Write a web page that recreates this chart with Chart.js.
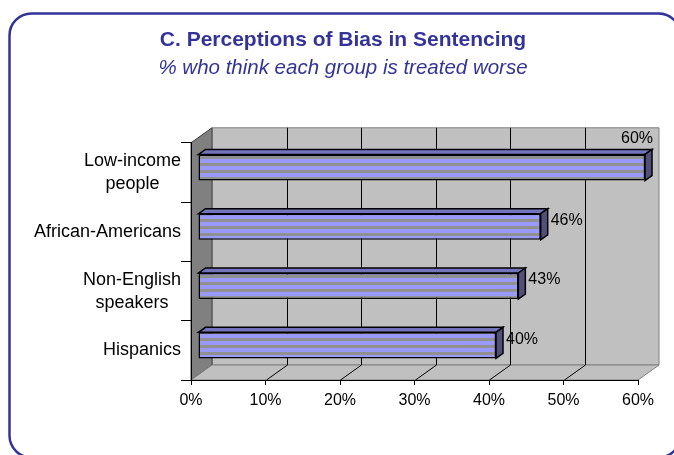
<!DOCTYPE html>
<html lang="en">
<head>
    <meta charset="UTF-8">
    <title>Perceptions of Bias in Sentencing</title>
    <style>
        body { margin: 0; background: #ffffff; }
        #chart { display: block; }
    </style>
</head>
<body>
    <canvas id="chart" width="674" height="455"></canvas>

    <script src="https://cdn.jsdelivr.net/npm/chart.js"></script>
    <script>
        // data
        const categories = [['Low-income', 'people'], 'African-Americans', ['Non-English', 'speakers'], 'Hispanics'];
        const values = [60, 46, 43, 40];
        const xTickValues = [0, 10, 20, 30, 40, 50, 60];

        const FONT = 'Liberation Sans, Arial, sans-serif';
        const NAVY = '#333399';
        // depth of the 3-D box and of the bars inside it
        const DX = 21, DY = -15;
        const BX = 7, BY = -5;

        function stripes() {
            const c = document.createElement('canvas');
            c.width = 4; c.height = 7;
            const g = c.getContext('2d');
            g.fillStyle = '#909090';
            g.fillRect(0, 0, 4, 7);
            g.fillStyle = '#9999ff';
            g.fillRect(0, 3, 4, 4);
            return g.createPattern(c, 'repeat');
        }

        function poly(ctx, pts, fill, stroke) {
            ctx.beginPath();
            ctx.moveTo(pts[0][0], pts[0][1]);
            for (let i = 1; i < pts.length; i++) ctx.lineTo(pts[i][0], pts[i][1]);
            ctx.closePath();
            if (fill) { ctx.fillStyle = fill; ctx.fill(); }
            if (stroke) { ctx.strokeStyle = stroke; ctx.lineWidth = 1; ctx.stroke(); }
        }

        // rounded frame + the walls and floor of the 3-D box
        const boxPlugin = {
            id: 'box3d',
            beforeDraw(chart) {
                const ctx = chart.ctx;
                const { left, right, top, bottom } = chart.chartArea;
                const xs = chart.scales.x;
                ctx.save();
                ctx.fillStyle = '#ffffff';
                ctx.fillRect(0, 0, chart.width, chart.height);

                // frame runs a little past the right and bottom edges
                ctx.beginPath();
                ctx.roundRect(9.5, 13.5, 671, 444, 22);
                ctx.strokeStyle = NAVY;
                ctx.lineWidth = 2.5;
                ctx.stroke();

                // back wall
                poly(ctx, [[left + DX, top + DY], [right + DX, top + DY], [right + DX, bottom + DY], [left + DX, bottom + DY]], '#c0c0c0', '#808080');
                // left wall
                poly(ctx, [[left, top], [left + DX, top + DY], [left + DX, bottom + DY], [left, bottom]], '#808080', '#404040');
                // floor
                poly(ctx, [[left, bottom], [right, bottom], [right + DX, bottom + DY], [left + DX, bottom + DY]], '#c0c0c0', '#808080');

                ctx.lineWidth = 1;
                ctx.strokeStyle = '#000000';
                xTickValues.forEach(v => {
                    if (v === xTickValues[0] || v === xTickValues[xTickValues.length - 1]) return;
                    const x = Math.round(xs.getPixelForValue(v)) + 0.5;
                    ctx.beginPath();
                    ctx.moveTo(x + DX, top + DY);
                    ctx.lineTo(x + DX, bottom + DY);
                    ctx.moveTo(x, bottom);
                    ctx.lineTo(x + DX, bottom + DY);
                    ctx.stroke();
                });
                ctx.restore();
            },
            afterDraw(chart) {
                // category labels: lines centred on each other, block right-aligned at the ticks
                const ctx = chart.ctx;
                const ys = chart.scales.y;
                const rightEdge = chart.chartArea.left - 10;
                ctx.save();
                ctx.font = '18px ' + FONT;
                ctx.fillStyle = '#000000';
                ctx.textAlign = 'center';
                ctx.textBaseline = 'middle';
                categories.forEach((lab, i) => {
                    const lines = Array.isArray(lab) ? lab : [lab];
                    const w = Math.max(...lines.map(l => ctx.measureText(l).width));
                    const cx = rightEdge - w / 2;
                    const cy = ys.getPixelForTick(i);
                    const lh = 23;
                    lines.forEach((l, j) => {
                        ctx.fillText(l, cx, cy + (j - (lines.length - 1) / 2) * lh);
                    });
                });
                ctx.restore();
            }
        };

        // push bars back into the box and give them a top and an end face
        const barPlugin = {
            id: 'bar3d',
            beforeDatasetsDraw(chart) {
                chart.ctx.save();
                chart.ctx.translate(BX, BY);
            },
            afterDatasetsDraw(chart) {
                const ctx = chart.ctx;
                ctx.restore();
                const wallRight = chart.chartArea.right + DX;
                const meta = chart.getDatasetMeta(0);
                ctx.save();
                ctx.lineWidth = 1.5;
                ctx.strokeStyle = '#000000';
                meta.data.forEach((bar, i) => {
                    const p = bar.getProps(['x', 'y', 'base', 'height'], true);
                    const x0 = p.base + BX, x1 = p.x + BX;
                    const yt = p.y - p.height / 2 + BY, yb = p.y + p.height / 2 + BY;
                    poly(ctx, [[x0, yt], [x1, yt], [x1 + BX, yt + BY], [x0 + BX, yt + BY]], '#7474bc', null);
                    ctx.stroke();
                    poly(ctx, [[x1, yt], [x1 + BX, yt + BY], [x1 + BX, yb + BY], [x1, yb]], '#50507a', null);
                    ctx.stroke();

                    ctx.font = '16px ' + FONT;
                    ctx.fillStyle = '#000000';
                    ctx.textBaseline = 'middle';
                    const txt = values[i] + '%';
                    const w = ctx.measureText(txt).width;
                    let lx = x1 + BX + 3;
                    if (lx + w > wallRight - 4) {
                        ctx.textAlign = 'right';
                        ctx.fillText(txt, wallRight - 6, yt - 16);
                    } else {
                        ctx.textAlign = 'left';
                        ctx.fillText(txt, lx, p.y + BY - 6);
                    }
                });
                ctx.restore();
            }
        };

        const chart = new Chart(document.getElementById('chart').getContext('2d'), {
            type: 'bar',
            data: {
                labels: categories,
                datasets: [{
                    data: values,
                    backgroundColor: stripes(),
                    borderColor: '#000000',
                    borderWidth: 1.5,
                    borderSkipped: false,
                    categoryPercentage: 1,
                    barPercentage: 0.44
                }]
            },
            options: {
                indexAxis: 'y',
                responsive: false,
                animation: false,
                devicePixelRatio: 1,
                layout: { padding: { top: 28, right: 36, bottom: 20, left: 48 } },
                plugins: {
                    legend: { display: false },
                    tooltip: { enabled: false },
                    title: {
                        display: true,
                        text: 'C. Perceptions of Bias in Sentencing',
                        color: NAVY,
                        font: { family: FONT, size: 21, weight: 'bold', lineHeight: 1.2 },
                        padding: { top: 0, bottom: 3 }
                    },
                    subtitle: {
                        display: true,
                        text: '% who think each group is treated worse',
                        color: NAVY,
                        font: { family: FONT, size: 20.5, style: 'italic', lineHeight: 1.2 },
                        padding: { top: 0, bottom: 62 }
                    }
                },
                scales: {
                    x: {
                        min: 0,
                        max: 60,
                        afterBuildTicks: s => { s.ticks = xTickValues.map(v => ({ value: v })); },
                        afterFit: s => { s.height = 55; },
                        grid: { drawOnChartArea: false, tickLength: 5, color: '#000000' },
                        border: { color: '#000000' },
                        ticks: {
                            color: '#000000',
                            padding: 6,
                            font: { family: FONT, size: 16 },
                            callback: v => v + '%'
                        }
                    },
                    y: {
                        afterFit: s => { s.width = 143; },
                        grid: { drawOnChartArea: false, tickLength: 10, color: '#000000', offset: true },
                        border: { color: '#000000' },
                        ticks: { display: false }
                    }
                }
            },
            plugins: [boxPlugin, barPlugin]
        });
    </script>
</body>
</html>
